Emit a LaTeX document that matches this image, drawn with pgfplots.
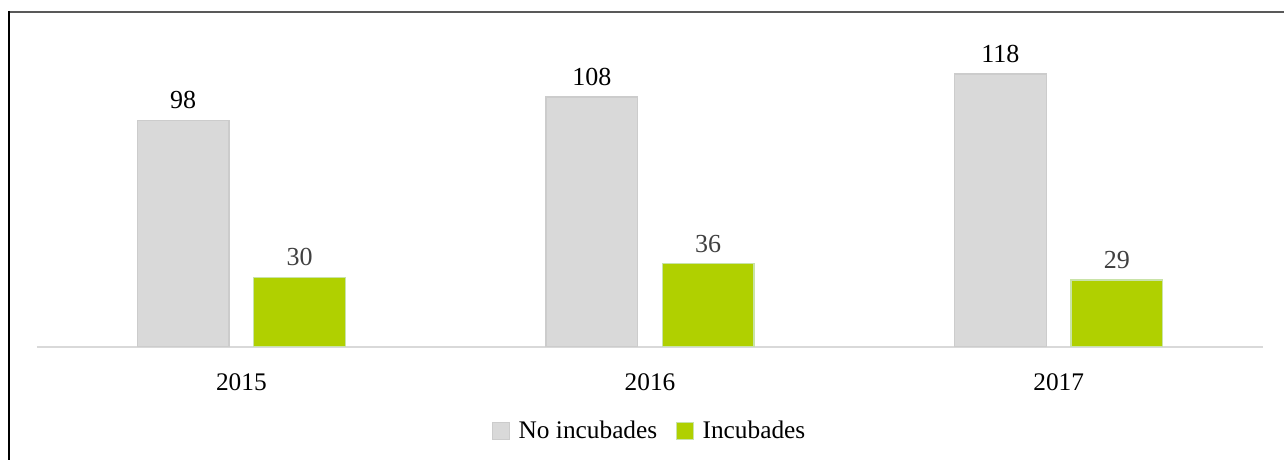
\documentclass[border=0pt]{standalone}
\usepackage{fontspec}
\setmainfont{Liberation Serif}
\usepackage{pgfplots}
\pgfplotsset{compat=1.18}

\definecolor{barGrey}{HTML}{D9D9D9}
\definecolor{edgeGrey}{HTML}{CCCCCC}
\definecolor{barGreen}{HTML}{B0D000}
\definecolor{edgeGreen}{HTML}{C9E3A8}
\definecolor{axisGrey}{HTML}{D9D9D9}
\definecolor{labelGrey}{HTML}{404040}
\definecolor{frameTop}{HTML}{595959}

\begin{document}
\begin{tikzpicture}
\useasboundingbox (0,0) rectangle (963pt,345pt);
\begin{axis}[
    at={(27.75pt,84.75pt)}, anchor=south west,
    scale only axis, width=919.5pt, height=243pt,
    ybar, ymin=0, ymax=140, xmin=-0.5, xmax=2.5,
    xtick=data, xticklabels={2015,2016,2017},
    axis x line=bottom, axis y line=none,
    major tick length=0pt,
    /pgf/number format/assume math mode=true,
    x axis line style={draw=axisGrey, line width=1.5pt, -},
    xticklabel style={font=\fontsize{19}{22}\selectfont, inner sep=0pt, anchor=north, yshift=-19.5pt},
    bar width=0.224,
    nodes near coords,
    every node near coord/.append style={font=\fontsize{19.5}{22}\selectfont, inner sep=0pt, anchor=south, yshift=8pt},
    legend style={at={(0.5,-0.259)}, anchor=center, draw=none, legend columns=2,
        font=\fontsize{19}{22}\selectfont,
        /tikz/every even column/.append style={column sep=12pt}},
    legend image code/.code={\draw[#1] (0pt,-6.4pt) rectangle (12.75pt,6.4pt); \path (17pt,0pt);},
]
\addplot[fill=barGrey, draw=edgeGrey, line width=1pt, bar shift=-0.1425,
    every node near coord/.append style={text=black}]
    coordinates {(0,98) (1,108) (2,118)};
\addplot[fill=barGreen, draw=edgeGreen, line width=1pt, bar shift=0.1425,
    every node near coord/.append style={text=labelGrey}]
    coordinates {(0,30) (1,36) (2,29)};
\legend{No incubades, Incubades}
\end{axis}
\draw[line width=1.5pt, frameTop] (6.4pt,336pt) -- (963pt,336pt);
\draw[line width=1.5pt, black] (7.1pt,336.75pt) -- (7.1pt,0pt);
\end{tikzpicture}
\end{document}
